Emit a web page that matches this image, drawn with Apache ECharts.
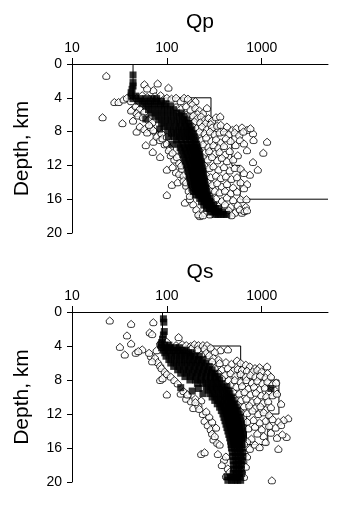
<!DOCTYPE html>
<html><head><meta charset="utf-8">
<script src="https://cdn.jsdelivr.net/npm/echarts@6/dist/echarts.min.js"></script>
<style>html,body{margin:0;padding:0;background:#fff}#c{width:356px;height:514px}</style>
</head><body><div id="c"></div>
<script>
const panelTitles = ['Qp', 'Qs'];
const xTicks = [10, 100, 1000];
const yLabel = 'Depth, km';

// step-model lines [Q, depth]
const qpModel = [[44,0],[44,4],[292,4],[292,8],[484,8],[484,12],[590,12],[590,16],[5000,16]];
const qsModel = [[90,0],[90,4],[600,4],[600,8],[1520,8],[1520,12],[1160,12],[1160,15.6],[690,15.6],[690,12]];

// Qp open markers [Q, depth]
const qpOpen = [
[23,1.4],[58,2.4],[80,2.3],[104,2.8],[72,3.1],[62,2.9],
[28,4.5],[31,4.5],[35,4.2],[38,4.0],[42,4.4],[48,4.0],[55,3.7],[62,3.9],[75,3.8],[86,3.7],[92,4.2],[100,4.0],[112,4.1],[125,4.0],[140,4.4],[152,4.0],[167,4.1],[180,4.6],[200,4.4],[185,4.8],
[43,5.4],[47,5.0],[52,5.3],[58,5.6],[42,5.5],[48,5.8],[125,5.1],[140,5.3],[160,5.0],[178,5.4],[200,5.2],[220,5.5],[265,5.2],[240,5.8],[210,5.9],
[44,6.7],[21,6.3],[50,6.1],[56,6.3],[64,6.6],[70,6.9],[34,7.0],[160,6.0],[175,6.3],[190,6.1],[210,6.4],[230,6.2],[250,6.6],[275,6.4],[300,6.7],[330,6.3],[365,6.2],[195,6.8],[225,6.9],[255,7.0],[290,7.1],
[48,8.0],[52,7.4],[58,7.7],[62,8.1],[68,7.5],[75,8.0],[80,8.4],[65,7.2],[72,7.8],[78,8.6],[88,8.2],
[185,7.3],[205,7.6],[235,7.4],[265,7.7],[300,7.5],[340,7.3],[370,7.2],[430,7.4],[490,7.8],[540,7.6],[620,7.5],[700,7.8],[810,8.2],[760,7.6],
[220,8.0],[250,8.2],[285,8.0],[320,8.3],[360,8.1],[400,8.0],[450,8.3],[520,8.1],[580,8.4],[640,8.0],
[60,9.6],[72,9.2],[85,9.0],[95,9.5],[90,8.8],[100,8.6],[100,9.4],[108,9.9],
[205,8.8],[230,9.0],[260,8.7],[295,9.1],[330,8.9],[370,9.3],[420,8.8],[470,9.1],[590,9.0],[820,9.0],[1140,9.2],[650,9.4],[530,9.6],[240,9.5],[275,9.8],[310,9.6],[350,9.9],[400,9.7],
[71,10.4],[85,11.0],[105,10.2],[110,10.8],[115,10.5],[120,11.3],[128,11.0],[135,11.7],
[220,10.2],[250,10.5],[280,10.3],[320,10.6],[360,10.4],[410,10.7],[460,10.3],[700,10.2],[1040,10.5],[560,10.8],[240,11.0],[270,11.3],[300,11.0],[340,11.4],[380,11.1],[430,11.5],[810,11.6],[500,11.3],
[100,12.5],[115,12.2],[125,12.8],[135,13.0],[145,12.4],[142,12.0],[150,13.2],
[250,12.0],[280,12.3],[310,12.1],[350,12.5],[400,12.2],[460,12.6],[520,12.3],[600,12.4],[910,12.5],[750,13.1],[650,12.9],[260,13.1],[290,13.4],[330,13.2],[370,13.5],[420,13.3],[480,13.6],[550,13.4],
[113,14.3],[130,14.0],[150,13.8],[160,14.4],[160,14.0],[170,15.0],
[270,14.0],[300,14.3],[340,14.1],[380,14.5],[430,14.2],[500,14.6],[600,14.0],[700,14.2],[650,14.7],[280,14.9],[320,15.0],[360,15.2],[410,15.0],[470,15.3],[550,15.1],
[100,15.5],[155,16.4],[175,16.0],[175,15.6],[190,16.6],
[290,15.7],[330,15.9],[380,16.2],[430,15.8],[500,16.1],[600,16.0],[690,16.0],[310,16.5],[350,16.8],[410,16.6],[470,16.9],[560,16.7],[680,16.9],
[223,18.0],[285,17.8],[250,17.6],[205,17.2],[215,17.8],[240,17.9],[450,17.3],[520,17.6],[620,17.6],[590,17.2],[660,17.4],[480,17.9],[700,17.3]
];

// Qp filled squares [Q, depth]
const qpSquares = [
[44,1.3],[44,2.2],[44,2.6],[43,3.0],[42,3.4],[42,3.8],[47,3.8],
[44,4.1],[52,4.1],[60,4.1],[70,4.1],[78,4.1],
[50,4.4],[58,4.4],[67,4.4],[77,4.4],[88,4.4],
[55,4.7],[64,4.7],[74,4.7],[86,4.7],[98,4.7],
[60,5.0],[70,5.0],[82,5.0],[95,5.0],[110,5.0],
[64,5.4],[75,5.4],[88,5.4],[102,5.4],[118,5.4],
[68,5.8],[80,5.8],[94,5.8],[110,5.8],[127,5.8],[142,5.8],
[75,6.2],[88,6.2],[102,6.2],[118,6.2],[135,6.2],[152,6.2],
[60,6.5],
[82,6.6],[96,6.6],[111,6.6],[128,6.6],[146,6.6],[162,6.6],
[88,7.0],[103,7.0],[120,7.0],[137,7.0],[154,7.0],[170,7.0],
[93,7.4],[108,7.4],[125,7.4],[142,7.4],[160,7.4],[176,7.4],
[84,7.7],
[102,7.8],[118,7.8],[134,7.8],[150,7.8],[167,7.8],[183,7.8],
[112,8.2],[127,8.2],[143,8.2],[159,8.2],[175,8.2],[190,8.2],
[104,8.6],[120,8.6],[135,8.6],[151,8.6],[167,8.6],[182,8.6],[195,8.6],
[126,9.0],[142,9.0],[158,9.0],[174,9.0],[190,9.0],[200,9.0],
[113,9.5],[132,9.5],[148,9.5],[164,9.5],[180,9.5],[195,9.5],[206,9.5],
[138,9.9],[154,9.9],[170,9.9],[186,9.9],[200,9.9],[212,9.9],
[142,10.3],[158,10.3],[174,10.3],[190,10.3],[205,10.3],[216,10.3],
[147,10.7],[163,10.7],[179,10.7],[195,10.7],[209,10.7],[221,10.7],
[152,11.1],[168,11.1],[184,11.1],[199,11.1],[213,11.1],[225,11.1],
[156,11.5],[172,11.5],[188,11.5],[203,11.5],[217,11.5],[229,11.5],
[160,11.9],[176,11.9],[192,11.9],[207,11.9],[221,11.9],[233,11.9],
[164,12.3],[180,12.3],[196,12.3],[211,12.3],[225,12.3],[237,12.3],
[168,12.7],[184,12.7],[200,12.7],[215,12.7],[229,12.7],[240,12.7],
[171,13.1],[187,13.1],[203,13.1],[218,13.1],[232,13.1],[243,13.1],
[174,13.5],[190,13.5],[206,13.5],[221,13.5],[235,13.5],[246,13.5],
[177,13.9],[193,13.9],[209,13.9],[224,13.9],[238,13.9],[250,13.9],
[180,14.3],[196,14.3],[212,14.3],[228,14.3],[242,14.3],[254,14.3],
[184,14.7],[200,14.7],[216,14.7],[232,14.7],[247,14.7],[259,14.7],
[190,15.1],[205,15.1],[221,15.1],[237,15.1],[252,15.1],[264,15.1],
[200,15.5],[214,15.5],[229,15.5],[244,15.5],[258,15.5],[270,15.5],
[222,15.9],[238,15.9],[254,15.9],[270,15.9],[282,15.9],
[232,16.3],[248,16.3],[264,16.3],[280,16.3],[292,16.3],
[245,16.7],[262,16.7],[280,16.7],[298,16.7],[312,16.7],
[262,17.1],[282,17.1],[302,17.1],[325,17.1],[350,17.1],
[285,17.5],[305,17.5],[330,17.5],[355,17.5],[385,17.5],
[322,17.8],[345,17.8],[372,17.8],[400,17.8],[428,17.8]
];

// Qs open markers [Q, depth]
const qsOpen = [
[25,1.0],[42,1.4],[72,1.2],[66,2.4],[70,2.6],[38,2.75],[42,3.7],[85,3.7],[133,2.95],[100,3.5],
[32,4.1],[36,5.0],[47,4.8],[55,4.4],[50,4.6],[68,5.2],[65,4.8],[75,5.4],[78,4.5],[80,5.9],[70,5.8],[85,6.3],[88,6.6],[95,7.0],[100,7.3],[110,7.6],[85,8.0],[90,7.8],[120,8.0],[100,9.7],[130,8.4],[140,9.6],[150,9.3],[165,9.7],[160,10.2],[180,10.5],[200,10.2],[190,11.3],[230,10.4],[215,11.0],
[125,3.9],[145,3.8],[160,3.9],[178,4.0],[195,3.8],[215,3.9],[240,3.9],[265,3.9],[180,4.3],[210,4.4],[250,4.3],[290,4.2],[366,4.5],[440,4.4],[320,4.7],[260,4.8],[230,5.0],
[280,5.1],[310,5.4],[350,5.6],[300,5.8],[420,5.9],[360,6.0],[480,6.1],[550,5.7],[600,6.0],[680,6.2],[750,6.4],[1140,6.4],[850,6.6],[950,6.5],
[320,6.6],[380,6.8],[440,6.6],[500,6.9],[560,6.7],[620,6.8],[700,6.9],[800,7.0],[900,6.8],[1000,7.0],[1150,7.2],[350,7.2],[410,7.4],[470,7.2],[530,7.5],[600,7.3],[680,7.6],[760,7.4],[860,7.6],[960,7.5],[1100,7.7],[1250,7.6],[380,7.8],[450,8.0],
[520,8.0],[600,8.2],[690,8.0],[790,8.3],[900,8.1],[1020,8.4],[1150,8.2],[1300,8.5],[1420,8.3],[470,8.6],[540,8.8],[620,8.7],[720,9.0],[830,8.8],[950,9.1],[1080,8.9],[1200,9.4],[1380,9.2],[500,9.4],[580,9.6],[660,9.4],[760,9.7],[870,9.5],[990,9.8],[1120,9.9],[1300,9.8],[1450,9.6],
[520,10.2],[600,10.4],[690,10.2],[790,10.6],[900,10.4],[1030,10.7],[1170,10.5],[1600,10.8],[560,10.9],[650,11.1],[740,11.0],[850,11.3],[970,11.1],[1100,11.5],[1250,11.2],[600,11.7],[700,11.9],[800,11.6],[920,12.0],[1050,11.8],[1200,12.1],
[1900,12.5],[1700,12.7],[1500,12.9],[1300,12.6],[1100,12.8],[950,13.0],[820,12.7],[700,12.9],[1600,13.3],[1400,13.6],[1200,13.4],[1000,13.8],[850,13.5],[720,13.7],[1830,14.7],[1650,14.4],[1450,14.8],[1250,14.2],[1050,14.6],[900,14.3],[780,14.9],[700,15.2],[1100,15.3],[850,15.6],[950,15.9],[750,16.1],[1500,16.1],[650,15.5],
[165,9.7],[200,10.6],[220,11.4],[240,12.0],[250,12.8],[270,13.3],[290,13.8],[300,14.3],[310,15.0],[320,14.6],[340,15.4],[360,15.6],[230,16.7],[250,16.5],[345,16.7],[400,17.4],[420,17.0],[380,18.0],[440,18.4],[420,19.3],[480,19.2],[460,18.8],[300,12.9],[330,13.6],[280,12.3],[260,11.7],
[660,16.6],[700,17.0],[640,17.6],[680,18.2],[620,18.8],[650,19.4],[1280,19.8]
];

// Qs filled squares [Q, depth]
const qsSquares = [
[92,0.8],[93,1.2],[94,2.3],[92,2.7],[90,3.2],[88,3.6],
[86,3.9],[95,3.9],[105,3.9],
[88,4.2],[98,4.2],[110,4.2],[122,4.2],[135,4.2],
[92,4.5],[103,4.5],[116,4.5],[130,4.5],[145,4.5],[160,4.5],
[95,4.8],[108,4.8],[122,4.8],[137,4.8],[153,4.8],[170,4.8],[185,4.8],
[98,5.2],[112,5.2],[127,5.2],[143,5.2],[160,5.2],[178,5.2],[198,5.2],[220,5.2],
[105,5.6],[120,5.6],[136,5.6],[153,5.6],[172,5.6],[192,5.6],[215,5.6],[240,5.6],
[110,6.0],[126,6.0],[144,6.0],[163,6.0],[184,6.0],[207,6.0],[232,6.0],[258,6.0],
[118,6.4],[135,6.4],[155,6.4],[176,6.4],[198,6.4],[222,6.4],[250,6.4],[280,6.4],
[130,6.8],[150,6.8],[170,6.8],[193,6.8],[217,6.8],[243,6.8],[272,6.8],[300,6.8],
[140,7.2],[162,7.2],[185,7.2],[210,7.2],[236,7.2],[265,7.2],[295,7.2],[322,7.2],
[155,7.6],[178,7.6],[203,7.6],[230,7.6],[258,7.6],[288,7.6],[320,7.6],[345,7.6],
[175,8.0],[200,8.0],[228,8.0],[258,8.0],[290,8.0],[322,8.0],[360,8.0],
[210,8.4],[240,8.4],[272,8.4],[305,8.4],[340,8.4],[378,8.4],
[140,8.9],[185,9.3],[240,9.6],[215,9.0],
[260,8.8],[290,8.8],[322,8.8],[356,8.8],[392,8.8],[430,8.8],
[272,9.2],[302,9.2],[336,9.2],[372,9.2],[410,9.2],[445,9.2],
[285,9.6],[316,9.6],[350,9.6],[388,9.6],[428,9.6],[462,9.6],
[300,10.0],[332,10.0],[368,10.0],[405,10.0],[445,10.0],[480,10.0],
[320,10.4],[352,10.4],[388,10.4],[425,10.4],[465,10.4],[500,10.4],
[340,10.8],[372,10.8],[408,10.8],[445,10.8],[485,10.8],[520,10.8],
[360,11.2],[392,11.2],[428,11.2],[465,11.2],[505,11.2],[540,11.2],
[375,11.6],[408,11.6],[445,11.6],[482,11.6],[522,11.6],[560,11.6],
[390,12.0],[422,12.0],[458,12.0],[496,12.0],[536,12.0],[580,12.0],
[400,12.4],[434,12.4],[470,12.4],[508,12.4],[550,12.4],[595,12.4],
[410,12.8],[444,12.8],[480,12.8],[518,12.8],[560,12.8],[605,12.8],
[420,13.2],[455,13.2],[492,13.2],[530,13.2],[570,13.2],[615,13.2],
[430,13.6],[465,13.6],[502,13.6],[540,13.6],[580,13.6],[625,13.6],
[440,14.0],[475,14.0],[512,14.0],[550,14.0],[590,14.0],[630,14.0],
[450,14.4],[485,14.4],[522,14.4],[560,14.4],[600,14.4],[640,14.4],
[460,14.8],[495,14.8],[532,14.8],[570,14.8],[610,14.8],[640,14.8],
[470,15.2],[505,15.2],[540,15.2],[578,15.2],[615,15.2],
[475,15.6],[510,15.6],[545,15.6],[582,15.6],[620,15.6],
[480,16.0],[515,16.0],[550,16.0],[585,16.0],[620,16.0],
[490,16.5],[525,16.5],[560,16.5],[595,16.5],[630,16.5],
[495,17.0],[530,17.0],[565,17.0],[600,17.0],[635,17.0],
[500,17.5],[535,17.5],[570,17.5],[605,17.5],[625,17.5],
[505,18.0],[540,18.0],[575,18.0],[610,18.0],
[505,18.5],[540,18.5],[575,18.5],[610,18.5],
[500,19.0],[540,19.0],[580,19.0],[615,19.0],
[430,19.4],[470,19.4],[510,19.4],[550,19.4],[590,19.4],
[440,19.8],[480,19.8],[520,19.8],[560,19.8],[600,19.8],
[1250,9.0]
];

const FONT = '"Liberation Sans", Arial, sans-serif';
const openSymbol = 'path://M5,0 L10,4.5 L10,7 Q10,10 7,10 L3,10 Q0,10 0,7 L0,4.5 Z';

const chart = echarts.init(document.getElementById('c'), null, {renderer: 'canvas'});
const xAxisDef = i => ({
  type: 'log', logBase: 10, gridIndex: i, position: 'top', min: 10, max: 5000,
  axisLine: {show: true, onZero: false, lineStyle: {color: '#000', width: 1}},
  axisTick: {show: true, inside: false, length: 6, customValues: xTicks, lineStyle: {color: '#000', width: 1}},
  axisLabel: {show: true, color: '#000', fontSize: 14, fontFamily: FONT, margin: 9, customValues: xTicks,
    formatter: v => String(Math.round(v))},
  splitLine: {show: false}, minorTick: {show: false}, minorSplitLine: {show: false}
});
const yAxisDef = i => ({
  type: 'value', gridIndex: i, inverse: true, min: 0, max: 20, interval: 4, position: 'left',
  name: yLabel, nameLocation: 'middle', nameRotate: 90, nameGap: 39,
  nameTextStyle: {color: '#000', fontSize: 21, fontFamily: FONT},
  axisLine: {show: true, onZero: false, lineStyle: {color: '#000', width: 1}},
  axisTick: {show: true, inside: false, length: 5, lineStyle: {color: '#000', width: 1}},
  axisLabel: {show: true, color: '#000', fontSize: 14, fontFamily: FONT, margin: 10},
  splitLine: {show: false}
});
const panel = (i, model, open, squares) => [
  {type: 'line', xAxisIndex: i, yAxisIndex: i, data: model, symbol: 'none', silent: true,
   lineStyle: {color: '#000', width: 1}, z: 1},
  {type: 'scatter', xAxisIndex: i, yAxisIndex: i, data: open, symbol: openSymbol, symbolSize: 7,
   itemStyle: {color: '#fff', borderColor: '#000', borderWidth: 1}, z: 2, silent: true},
  {type: 'scatter', xAxisIndex: i, yAxisIndex: i, data: squares, symbol: 'rect', symbolSize: 7,
   itemStyle: {color: '#000'}, z: 3, silent: true}
];
chart.setOption({
  animation: false,
  backgroundColor: '#fff',
  grid: [
    {left: 72, right: 28, top: 64, height: 169},
    {left: 72, right: 28, top: 312, height: 170}
  ],
  xAxis: [xAxisDef(0), xAxisDef(1)],
  yAxis: [yAxisDef(0), yAxisDef(1)],
  graphic: [
    {type: 'text', x: 200, y: 22, style: {text: panelTitles[0], fill: '#000', font: '21px ' + FONT, align: 'center', verticalAlign: 'middle'}},
    {type: 'text', x: 200, y: 272, style: {text: panelTitles[1], fill: '#000', font: '21px ' + FONT, align: 'center', verticalAlign: 'middle'}}
  ],
  series: [].concat(panel(0, qpModel, qpOpen, qpSquares), panel(1, qsModel, qsOpen, qsSquares))
});
</script>
</body></html>
